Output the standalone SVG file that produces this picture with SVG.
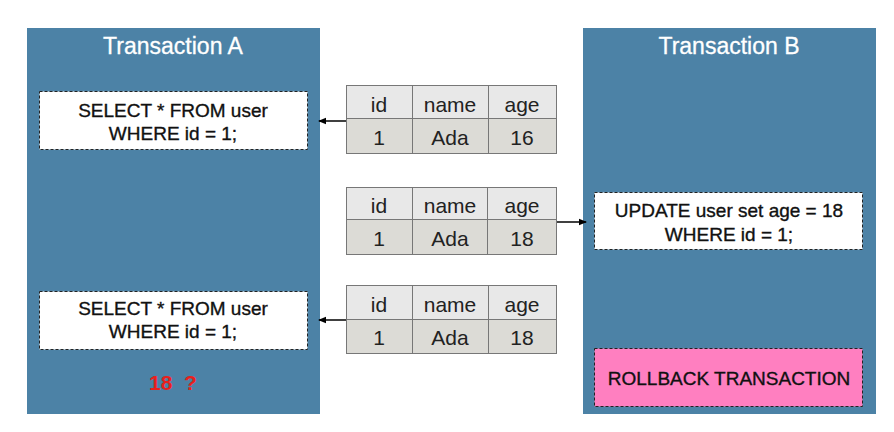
<svg xmlns="http://www.w3.org/2000/svg" width="894" height="432" viewBox="0 0 894 432">
<style>
.panel{fill:#4c82a6}
.title{font-family:"Liberation Sans",Arial,sans-serif;font-size:23px;fill:#ffffff;text-anchor:middle;stroke:#ffffff;stroke-width:0.3}
.box{fill:#ffffff;stroke:#222;stroke-width:1;stroke-dasharray:3 2}
.pink{fill:#ff7fc0;stroke:#222;stroke-width:1;stroke-dasharray:3 2}
.t{font-family:"Liberation Sans",Arial,sans-serif;font-size:19px;fill:#111;text-anchor:middle;stroke:#111;stroke-width:0.35}
.tt{font-family:"Liberation Sans",Arial,sans-serif;font-size:21px;fill:#222;text-anchor:middle}
.hdr{fill:#e8e8e8;stroke:#777;stroke-width:1}
.dat{fill:#dcdbd6;stroke:#777;stroke-width:1}
.red{font-family:"Liberation Sans",Arial,sans-serif;font-size:21px;font-weight:bold;fill:#e8201c;text-anchor:middle}
.conn{stroke:#000;stroke-width:1.5;fill:none;marker-end:url(#ah)}
</style>
<defs>
<marker id="ah" markerWidth="8" markerHeight="8" refX="7" refY="4" orient="auto" markerUnits="userSpaceOnUse">
<path d="M0,0.8 L8,4 L0,7.2 Z" fill="#000"/>
</marker>
</defs>
<rect width="894" height="432" fill="#ffffff"/>
<g id="transaction-a">
<rect class="panel" x="27" y="28" width="293" height="386"/>
<text class="title" x="173" y="54">Transaction A</text>
</g>
<g id="transaction-b">
<rect class="panel" x="583" y="28" width="293" height="386"/>
<text class="title" x="729" y="54">Transaction B</text>
</g>
<g id="select-1">
<rect class="box" x="39.5" y="91.5" width="268" height="58"/>
<text class="t" x="173" y="117">SELECT * FROM user</text>
<text class="t" x="173" y="140">WHERE id = 1;</text>
</g>
<g id="select-2">
<rect class="box" x="39.5" y="291.5" width="268" height="58"/>
<text class="t" x="173" y="315">SELECT * FROM user</text>
<text class="t" x="173" y="338">WHERE id = 1;</text>
</g>
<g id="result">
<text class="red" x="173" y="390" xml:space="preserve">18  ?</text>
</g>
<g id="update">
<rect class="box" x="594.5" y="192.5" width="268" height="57"/>
<text class="t" x="729" y="217">UPDATE user set age = 18</text>
<text class="t" x="729" y="241">WHERE id = 1;</text>
</g>
<g id="rollback">
<rect class="pink" x="594.5" y="348.5" width="268" height="58"/>
<text class="t" x="729" y="385">ROLLBACK TRANSACTION</text>
</g>
<g id="table-1">
<rect class="hdr" x="346.5" y="85.5" width="210" height="33"/>
<rect class="dat" x="346.5" y="118.5" width="210" height="35"/>
<line x1="412.5" y1="85.5" x2="412.5" y2="153.5" stroke="#777"/>
<line x1="488.5" y1="85.5" x2="488.5" y2="153.5" stroke="#777"/>
<text class="tt" x="379" y="112">id</text>
<text class="tt" x="450" y="112">name</text>
<text class="tt" x="522" y="112">age</text>
<text class="tt" x="379" y="145">1</text>
<text class="tt" x="450" y="145">Ada</text>
<text class="tt" x="522" y="145">16</text>
</g>
<g id="table-2">
<rect class="hdr" x="346.5" y="187.5" width="210" height="32"/>
<rect class="dat" x="346.5" y="219.5" width="210" height="35"/>
<line x1="412.5" y1="187.5" x2="412.5" y2="254.5" stroke="#777"/>
<line x1="487.5" y1="187.5" x2="487.5" y2="254.5" stroke="#777"/>
<text class="tt" x="379" y="213">id</text>
<text class="tt" x="450" y="213">name</text>
<text class="tt" x="522" y="213">age</text>
<text class="tt" x="379" y="246">1</text>
<text class="tt" x="450" y="246">Ada</text>
<text class="tt" x="522" y="246">18</text>
</g>
<g id="table-3">
<rect class="hdr" x="346.5" y="285.5" width="210" height="34"/>
<rect class="dat" x="346.5" y="319.5" width="210" height="34"/>
<line x1="412.5" y1="285.5" x2="412.5" y2="353.5" stroke="#777"/>
<line x1="488.5" y1="285.5" x2="488.5" y2="353.5" stroke="#777"/>
<text class="tt" x="379" y="312">id</text>
<text class="tt" x="450" y="312">name</text>
<text class="tt" x="522" y="312">age</text>
<text class="tt" x="379" y="345">1</text>
<text class="tt" x="450" y="345">Ada</text>
<text class="tt" x="522" y="345">18</text>
</g>
<g id="connectors">
<line class="conn" x1="346" y1="121" x2="319" y2="121"/>
<line class="conn" x1="557" y1="222" x2="586" y2="222"/>
<line class="conn" x1="346" y1="320" x2="319" y2="320"/>
</g>
</svg>
